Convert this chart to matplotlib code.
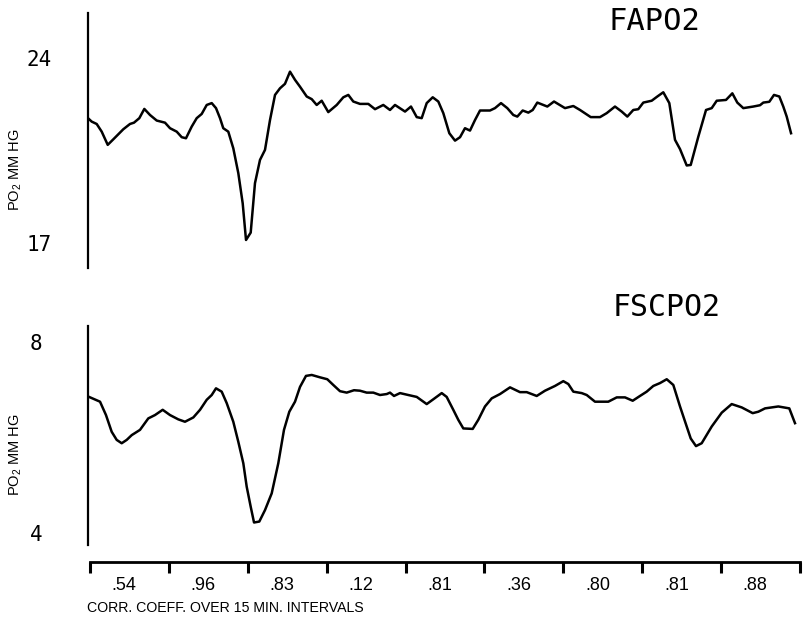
import matplotlib
matplotlib.use("Agg")
import matplotlib.pyplot as plt
from matplotlib.ticker import FixedLocator, NullFormatter

# ---------------- data ----------------
# FAPO2 (top panel): time in minutes, PO2 in mm Hg
fa_t = [0.0, 0.7, 1.65, 2.6, 3.74, 4.8, 6.69, 7.96, 8.72, 9.73, 10.68, 11.76, 13.03,
        14.6, 15.55, 16.82, 17.77, 18.58, 19.66, 20.61, 21.56, 22.51, 23.46, 24.27,
        25.03, 25.65, 26.6, 27.55, 28.5, 29.33, 29.96, 30.85, 31.66, 32.61, 33.56,
        34.51, 35.46, 36.4, 37.35, 38.3, 39.25, 40.2, 41.47, 42.42, 43.36, 44.31,
        45.56, 47.16, 48.41, 49.36, 50.3, 51.57, 53.15, 54.42, 55.99, 57.26, 58.21,
        60.11, 61.24, 62.33, 63.27, 64.22, 65.36, 66.42, 67.37, 68.51, 69.59, 70.54,
        71.48, 72.43, 73.38, 74.33, 76.22, 77.17, 78.31, 79.5, 80.64, 81.4, 82.42,
        83.49, 84.32, 85.19, 87.09, 88.36, 90.44, 92.02, 93.29, 95.32, 97.08, 98.35,
        99.92, 101.19, 102.26, 103.39, 104.34, 105.29, 106.88, 107.95, 109.08,
        110.22, 111.3, 112.25, 113.52, 114.28, 115.72, 117.18, 118.26, 119.21,
        120.97, 122.17, 123.11, 124.25, 126.15, 127.42, 128.04, 129.18, 130.07,
        131.08, 131.83, 132.48, 133.3]
fa_po2 = [21.72, 21.59, 21.5, 21.21, 20.71, 20.92, 21.3, 21.5, 21.55, 21.72, 22.07,
          21.84, 21.63, 21.55, 21.34, 21.21, 21.0, 20.96, 21.4, 21.72, 21.88, 22.22,
          22.29, 22.1, 21.72, 21.34, 21.21, 20.58, 19.64, 18.5, 17.11, 17.39, 19.26,
          20.14, 20.52, 21.65, 22.6, 22.85, 23.02, 23.48, 23.17, 22.91, 22.54, 22.44,
          22.22, 22.38, 21.95, 22.22, 22.51, 22.6, 22.35, 22.26, 22.26, 22.06, 22.22,
          22.03, 22.22, 21.97, 22.16, 21.76, 21.72, 22.29, 22.51, 22.35, 21.91, 21.15,
          20.87, 21.0, 21.34, 21.25, 21.65, 22.01, 22.01, 22.1, 22.29, 22.1, 21.84,
          21.78, 22.01, 21.93, 22.03, 22.31, 22.16, 22.35, 22.1, 22.18, 22.03, 21.76,
          21.76, 21.91, 22.16, 21.97, 21.78, 22.03, 22.06, 22.31, 22.38, 22.54, 22.7,
          22.29, 20.9, 20.55, 19.93, 19.95, 21.02, 22.03, 22.1, 22.38, 22.41, 22.66,
          22.31, 22.1, 22.16, 22.21, 22.31, 22.34, 22.6, 22.54, 22.16, 21.78, 21.15]

# FSCPO2 (bottom panel)
fs_t = [0.2, 2.28, 3.41, 4.49, 5.44, 6.39, 7.34, 8.29, 9.86, 11.43, 12.7, 14.16,
        15.55, 17.12, 18.39, 19.97, 21.24, 22.51, 23.46, 24.27, 25.35, 26.3, 27.55,
        28.5, 29.45, 30.09, 30.85, 31.48, 32.48, 33.56, 34.83, 36.08, 37.16, 38.17,
        39.25, 40.2, 41.33, 42.42, 43.99, 45.37, 46.51, 47.78, 49.05, 50.44, 51.57,
        52.84, 54.1, 55.37, 56.64, 57.26, 58.02, 59.16, 60.73, 62.33, 64.22, 65.47,
        67.07, 68.01, 69.26, 70.21, 71.16, 72.94, 74.0, 75.27, 76.55, 78.12, 80.02,
        81.91, 83.18, 85.08, 86.65, 88.55, 90.12, 91.07, 92.02, 93.61, 94.56, 96.13,
        98.65, 100.25, 101.82, 103.28, 104.66, 105.93, 107.19, 108.46, 109.73,
        110.98, 112.25, 113.52, 114.28, 115.28, 116.36, 118.26, 120.16, 122.05,
        123.95, 126.03, 127.1, 128.37, 130.89, 132.97, 134.05]
fs_po2 = [6.85, 6.75, 6.47, 6.12, 5.95, 5.88, 5.95, 6.05, 6.16, 6.4, 6.47, 6.58,
          6.47, 6.38, 6.33, 6.42, 6.58, 6.79, 6.89, 7.03, 6.96, 6.72, 6.33, 5.91,
          5.46, 4.97, 4.55, 4.22, 4.24, 4.48, 4.83, 5.46, 6.16, 6.54, 6.75, 7.06,
          7.29, 7.31, 7.26, 7.22, 7.1, 6.97, 6.94, 6.99, 6.98, 6.94, 6.94, 6.89,
          6.91, 6.94, 6.87, 6.93, 6.89, 6.85, 6.7, 6.8, 6.93, 6.85, 6.58, 6.37, 6.19,
          6.18, 6.37, 6.65, 6.82, 6.91, 7.05, 6.95, 6.95, 6.87, 6.98, 7.08, 7.18,
          7.12, 6.96, 6.93, 6.89, 6.75, 6.75, 6.84, 6.84, 6.77, 6.87, 6.96, 7.08,
          7.14, 7.22, 7.1, 6.65, 6.23, 5.98, 5.82, 5.88, 6.23, 6.52, 6.7, 6.63, 6.51,
          6.54, 6.61, 6.65, 6.61, 6.3]

interval_edges = [0, 15, 30, 45, 60, 75, 90, 105, 120, 135]
corr_labels = [".54", ".96", ".83", ".12", ".81", ".36", ".80", ".81", ".88"]
top_ticks = [17, 24]
bot_ticks = [4, 8]

# ---------------- style ----------------
NARROW = ['Liberation Sans', 'DejaVu Sans']
MONO = ['DejaVu Sans Mono']
plt.rcParams['mathtext.default'] = 'regular'
plt.rcParams['font.family'] = NARROW

W, H = 807, 621
fig = plt.figure(figsize=(W / 100, H / 100), dpi=100)

def fx(px):
    return px / W

def fy(py):
    return 1 - py / H

ax1 = fig.add_axes([fx(88), fy(268), (800 - 88) / W, 255 / H])
ax2 = fig.add_axes([fx(88), fy(545), (800 - 88) / W, 219 / H])
ax3 = fig.add_axes([fx(90), fy(562), (800 - 90) / W, 0.0005])

for ax in (ax1, ax2):
    ax.set_xlim(0, 135)
    for s in ('top', 'right', 'bottom'):
        ax.spines[s].set_visible(False)
    ax.spines['left'].set_linewidth(1.6)
    ax.set_xticks([])
    ax.patch.set_alpha(0)

ax1.plot(fa_t, fa_po2, color='black', lw=1.8, solid_joinstyle='round')
ax1.set_ylim(16.05, 25.70)
ax1.set_yticks(top_ticks)
ax1.set_yticklabels([str(v) for v in top_ticks], family=MONO, fontsize=15)
ax1.tick_params(axis='y', length=0, pad=26)

ax2.plot(fs_t, fs_po2, color='black', lw=1.8, solid_joinstyle='round')
ax2.set_ylim(3.749, 8.335)
ax2.set_yticks(bot_ticks)
ax2.set_yticklabels([str(v) for v in bot_ticks], family=MONO, fontsize=15)
ax2.tick_params(axis='y', length=0, pad=33)

# x axis with correlation coefficients
ax3.set_xlim(0, 135)
ax3.set_ylim(0, 1)
for s in ('top', 'right', 'left'):
    ax3.spines[s].set_visible(False)
ax3.spines['bottom'].set_linewidth(2)
ax3.set_yticks([])
ax3.xaxis.set_major_locator(FixedLocator(interval_edges))
ax3.xaxis.set_major_formatter(NullFormatter())
centers = [e + 6.5 for e in interval_edges[:-1]]
ax3.xaxis.set_minor_locator(FixedLocator(centers))
ax3.set_xticklabels(corr_labels, minor=True, fontsize=13)
ax3.tick_params(axis='x', which='major', direction='out', length=8, width=2.2)
ax3.tick_params(axis='x', which='minor', length=0, pad=11)

# titles
fig.text(fx(608), fy(21), 'FAPO2', family=MONO, fontsize=22, va='center', ha='left')
fig.text(fx(613), fy(308), 'FSCPO2', family=MONO, fontsize=21.5, va='center', ha='left')

# y labels
fig.text(fx(16), fy(170), 'PO$_2$ MM HG', rotation=90, fontsize=10.5, va='center', ha='center')
fig.text(fx(16), fy(455), 'PO$_2$ MM HG', rotation=90, fontsize=10.5, va='center', ha='center')

# x label
fig.text(fx(87), fy(608), 'CORR. COEFF. OVER 15 MIN. INTERVALS', fontsize=10.2,
         va='center', ha='left')

fig.savefig('out.png', dpi=100)
